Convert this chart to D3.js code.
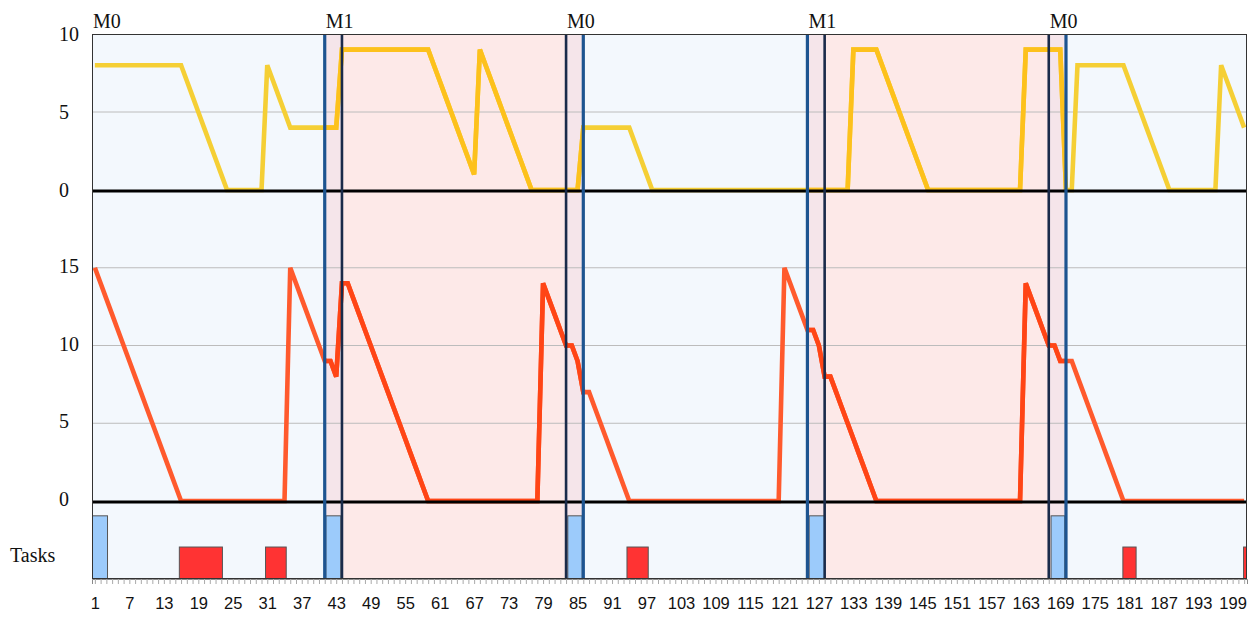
<!DOCTYPE html>
<html><head><meta charset="utf-8">
<script src="https://cdn.jsdelivr.net/npm/d3@7"></script>
<style>body{margin:0;background:#fff}</style>
</head><body><svg id="c" width="1259" height="619"></svg>
<script>
// ---------- data ----------
const steps = d3.range(1, 202); // time steps 1..201
const yellowValues = [
 8,8,8,8,8,8,8,8,8,8,8,8,8,8,8,8,
 7,6,5,4,3,2,1,0,
 0,0,0,0,0,0,
 8,7,6,5,4,
 4,4,4,4,4,4,4,4,
 9,9,9,9,9,9,9,9,9,9,9,9,9,9,9,9,
 8,7,6,5,4,3,2,1,
 9,8,7,6,5,4,3,2,1,0,
 0,0,0,0,0,0,0,0,
 4,4,4,4,4,4,4,4,4,
 3,2,1,0,
 0,0,0,0,0,0,0,0,0,0,0,0,0,0,0,0,0,0,0,0,0,0,0,0,0,0,0,0,0,0,0,0,0,0,
 9,9,9,9,9,
 8,7,6,5,4,3,2,1,0,
 0,0,0,0,0,0,0,0,0,0,0,0,0,0,0,0,
 9,9,9,9,9,9,9,
 0,0,
 8,8,8,8,8,8,8,8,8,
 7,6,5,4,3,2,1,0,
 0,0,0,0,0,0,0,0,
 8,7,6,5,4
];
const redValues = [
 15,14,13,12,11,10,9,8,7,6,5,4,3,2,1,0,
 0,0,0,0,0,0,0,0,0,0,0,0,0,0,0,0,0,0,
 15,14,13,12,11,10,9,
 9,8,14,14,
 13,12,11,10,9,8,7,6,5,4,3,2,1,0,
 0,0,0,0,0,0,0,0,0,0,0,0,0,0,0,0,0,0,0,
 14,13,12,11,10,
 10,9,7,7,
 6,5,4,3,2,1,0,
 0,0,0,0,0,0,0,0,0,0,0,0,0,0,0,0,0,0,0,0,0,0,0,0,0,0,
 15,14,13,12,11,
 11,10,8,8,
 7,6,5,4,3,2,1,0,
 0,0,0,0,0,0,0,0,0,0,0,0,0,0,0,0,0,0,0,0,0,0,0,0,0,
 14,13,12,11,10,
 10,9,9,9,
 8,7,6,5,4,3,2,1,0,
 0,0,0,0,0,0,0,0,0,0,0,0,0,0,0,0,0,0,0,0,0
];
const phaseNames  = ["M0", "M1", "M0", "M1", "M0"];
const phaseStarts = [0.5, 44, 86, 128, 170];
const phaseEnds   = [41, 83, 125, 167, 201.5];
const labelAt     = [0.5, 41, 83, 125, 167];
const transStarts = [41, 83, 125, 167];
const transEnds   = [44, 86, 128, 170];
const m0Bounds = [41, 86, 125, 170];
const m1Bounds = [44, 83, 128, 167];
const taskStarts = [0.5, 41.2, 83.3, 125.3, 167.4, 15.7, 30.7, 93.6, 179.9, 200.9];
const taskEnds   = [3.2, 43.8, 85.8, 128.0, 169.8, 23.2, 34.3, 97.3, 182.2, 201.5];
const taskKinds  = ["switch","switch","switch","switch","switch","job","job","job","job","job"];
const taskLevels = [0.81, 0.81, 0.81, 0.81, 0.81, 0.41, 0.41, 0.41, 0.41, 0.41];
const topTicks = [0, 5, 10];
const bottomTicks = [0, 5, 10, 15];
const xTickLabels = [1,7,13,19,25,31,37,43,49,55,61,67,73,79,85,91,97,103,109,115,121,127,133,139,145,151,157,163,169,175,181,187,193,199];

// ---------- layout ----------
const L = 92, R = 1247, T = 34, B = 579;
const x = d3.scaleLinear().domain([0.5, 201.5]).range([L, R]);
const yTop = d3.scaleLinear().domain([0, 10]).range([190, T]);
const yBot = d3.scaleLinear().domain([0, 20]).range([501, 190]);
const yTask = d3.scaleLinear().domain([0, 1]).range([B, 501]);

const svg = d3.select("#c");
const defs = svg.append("defs");
defs.append("clipPath").attr("id","plot").append("rect")
  .attr("x", L).attr("y", T).attr("width", R - L).attr("height", B - T);
const m1clip = defs.append("clipPath").attr("id","m1");
transStarts.forEach((s, i) => {
  if (i % 2 === 0) {
    m1clip.append("rect").attr("x", x(s)).attr("y", T)
      .attr("width", x(transEnds[i+1]) - x(s)).attr("height", B - T);
  }
});

const g = svg.append("g").attr("clip-path","url(#plot)");

// backgrounds
g.selectAll("rect.ph").data(phaseNames).join("rect").attr("class","ph")
  .attr("x", (d,i) => x(phaseStarts[i])).attr("y", T)
  .attr("width", (d,i) => x(phaseEnds[i]) - x(phaseStarts[i])).attr("height", B - T)
  .attr("fill", d => d === "M0" ? "#f3f8fd" : "#fde9e8");
g.selectAll("rect.tr").data(transStarts).join("rect").attr("class","tr")
  .attr("x", d => x(d)).attr("y", T)
  .attr("width", (d,i) => x(transEnds[i]) - x(d)).attr("height", B - T)
  .attr("fill", "#f5e5ea");

// gridlines
const grid = [...topTicks.filter(v => v > 0 && v < 10).map(v => yTop(v)),
              ...bottomTicks.filter(v => v > 0).map(v => yBot(v))];
g.selectAll("line.grid").data(grid).join("line").attr("class","grid")
  .attr("x1", L).attr("x2", R).attr("y1", d => d).attr("y2", d => d)
  .attr("stroke", "#bcbcbc").attr("stroke-width", 1);

// tasks
g.selectAll("rect.task").data(taskStarts).join("rect").attr("class","task")
  .attr("x", (d) => x(d)).attr("width", (d,i) => x(taskEnds[i]) - x(d))
  .attr("y", (d,i) => yTask(taskLevels[i])).attr("height", (d,i) => B - yTask(taskLevels[i]))
  .attr("fill", (d,i) => taskKinds[i] === "switch" ? "#9ccbfb" : "#ff3333")
  .attr("stroke", "#555").attr("stroke-width", 1);

// data lines
const lineTop = d3.line().x((d,i) => x(steps[i])).y(d => yTop(d));
const lineBot = d3.line().x((d,i) => x(steps[i])).y(d => yBot(d));
function drawLine(vals, gen, c0, c1) {
  g.append("path").datum(vals).attr("d", gen).attr("fill","none")
    .attr("stroke", c0).attr("stroke-width", 4.6).attr("stroke-linejoin","miter");
  g.append("path").datum(vals).attr("d", gen).attr("fill","none")
    .attr("clip-path","url(#m1)")
    .attr("stroke", c1).attr("stroke-width", 4.6).attr("stroke-linejoin","miter");
}
drawLine(yellowValues, lineTop, "#f5cf35", "#fdc11c");
drawLine(redValues, lineBot, "#ff5a2d", "#ff4516");

// zero lines
g.selectAll("line.zero").data([yTop(0), yBot(0)]).join("line").attr("class","zero")
  .attr("x1", L).attr("x2", R).attr("y1", d => d + 1).attr("y2", d => d + 1)
  .attr("stroke", "#000").attr("stroke-width", 3);

// phase boundaries
g.selectAll("line.b0").data(m0Bounds).join("line").attr("class","b0")
  .attr("x1", d => x(d)).attr("x2", d => x(d)).attr("y1", T).attr("y2", B)
  .attr("stroke", "#1d5490").attr("stroke-width", 3.2);
g.selectAll("line.b1").data(m1Bounds).join("line").attr("class","b1")
  .attr("x1", d => x(d)).attr("x2", d => x(d)).attr("y1", T).attr("y2", B)
  .attr("stroke", "#1a2b4a").attr("stroke-width", 2.6);

// border
svg.append("rect").attr("x", L + 0.5).attr("y", T + 0.5)
  .attr("width", R - L - 1).attr("height", B - T - 1)
  .attr("fill","none").attr("stroke","#333").attr("stroke-width", 1);

// x axis
const ax = svg.append("g").attr("transform", `translate(0,${B})`)
  .call(d3.axisBottom(x).tickValues(steps).tickSize(5).tickPadding(13)
    .tickFormat(d => xTickLabels.includes(d) ? d : ""));
ax.select(".domain").attr("stroke", "#888");
ax.selectAll(".tick line").attr("stroke", "#aaa");
ax.selectAll(".tick text").attr("font-family", "'Liberation Sans', Arial, sans-serif")
  .attr("font-size", 16.5).attr("fill", "#111");

// y labels
const serif = "'Liberation Serif', 'Times New Roman', serif";
svg.selectAll("text.yt").data(topTicks).join("text").attr("class","yt")
  .attr("x", 59).attr("y", d => yTop(d)).attr("dominant-baseline","central")
  .attr("font-family", serif).attr("font-size", 20).attr("fill","#111").text(d => d);
svg.selectAll("text.yb").data(bottomTicks).join("text").attr("class","yb")
  .attr("x", 59).attr("y", d => yBot(d) - 2).attr("dominant-baseline","central")
  .attr("font-family", serif).attr("font-size", 20).attr("fill","#111").text(d => d);
svg.append("text").attr("x", 10).attr("y", 562)
  .attr("font-family", serif).attr("font-size", 20).attr("fill","#111").text("Tasks");

// phase labels
svg.selectAll("text.ph").data(phaseNames).join("text").attr("class","ph")
  .attr("x", (d,i) => x(labelAt[i]) + 1).attr("y", 27.5)
  .attr("font-family", serif).attr("font-size", 20).attr("fill","#111").text(d => d);
</script></body></html>
